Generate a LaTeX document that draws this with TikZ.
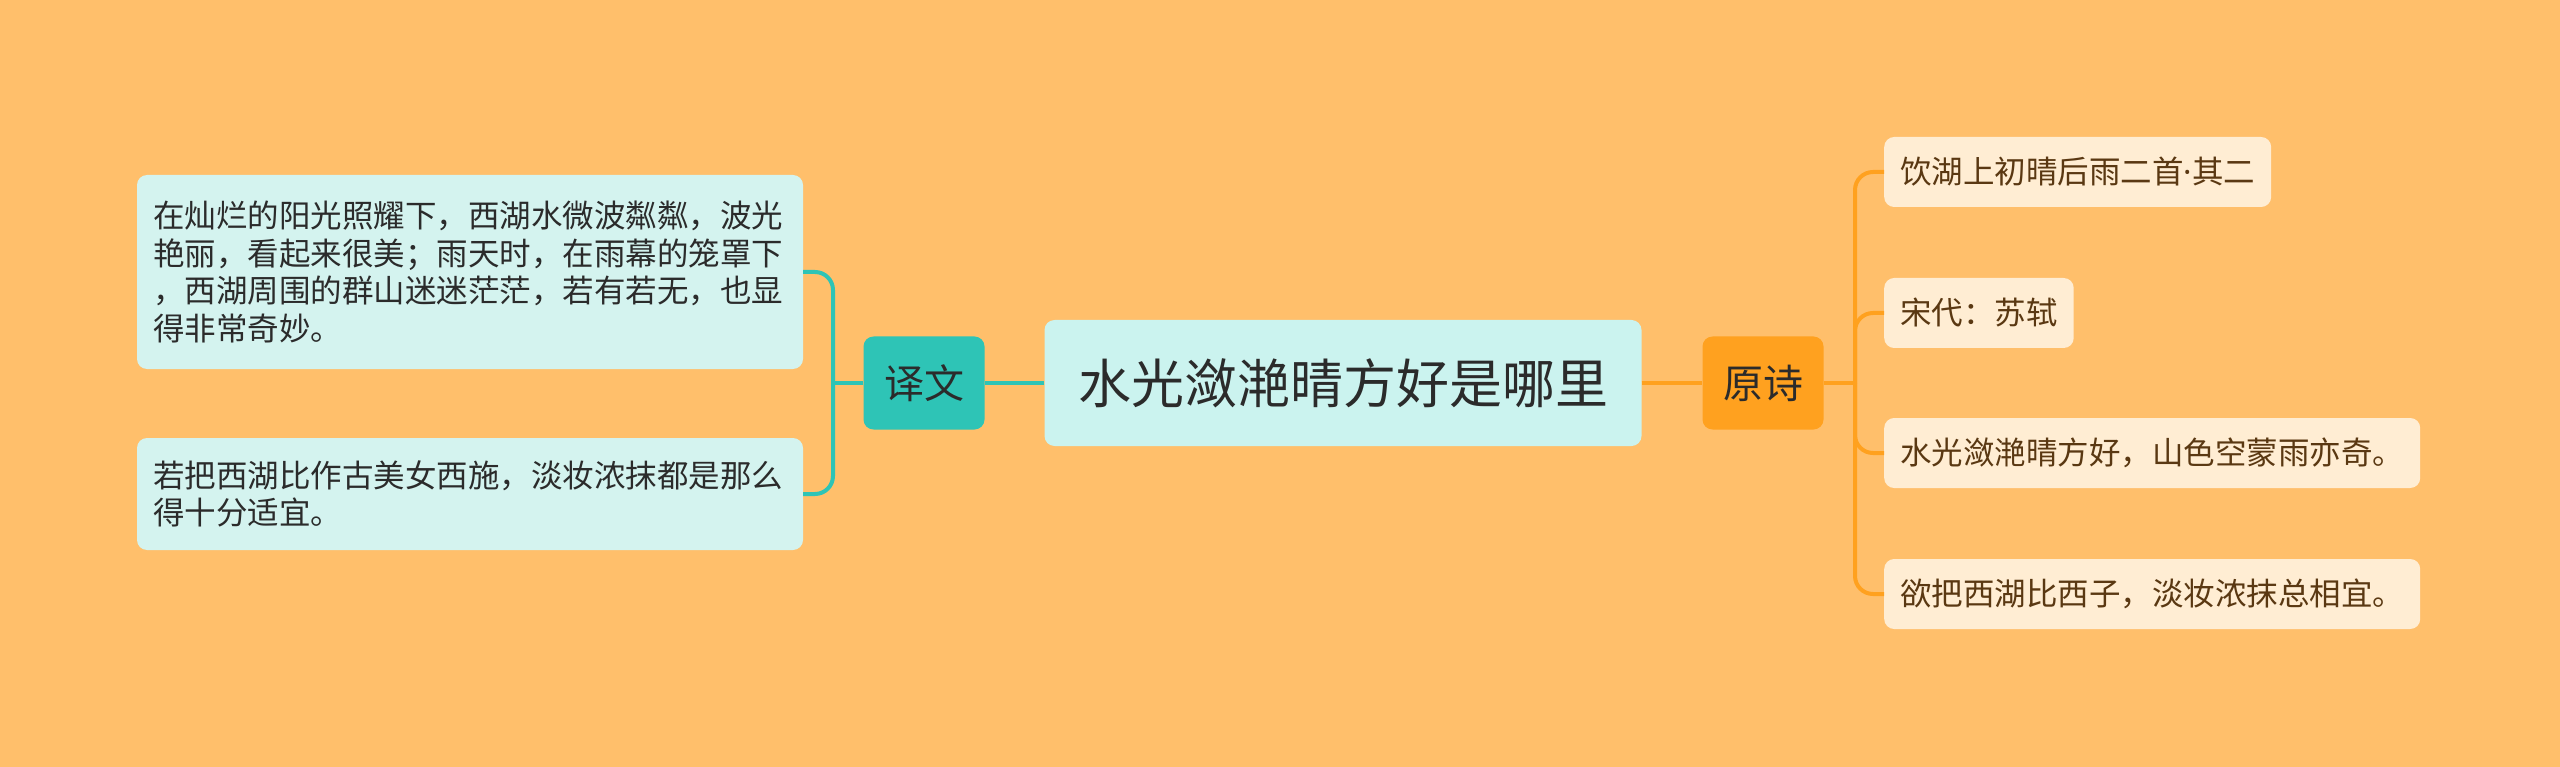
\documentclass[tikz,border=0pt]{standalone}
\usepackage{fontspec}
\setmainfont{Noto Sans CJK SC}
\newfontfamily\latinfont{Noto Sans}
\definecolor{bgc}{HTML}{FFBF6B}
\definecolor{tealc}{HTML}{2EC4B6}
\definecolor{leftleaf}{HTML}{D4F3EF}
\definecolor{rootc}{HTML}{CBF3EF}
\definecolor{orangec}{HTML}{FFA11F}
\definecolor{rightleaf}{HTML}{FFEDD3}
\definecolor{darktext}{HTML}{2B2B2B}
\definecolor{browntext}{HTML}{5A3812}
\tikzset{
  box/.style={rounded corners=10pt, inner xsep=16pt, inner ysep=0pt},
  rootbox/.style={box, fill=rootc, text=darktext, minimum width=597pt, minimum height=126pt,
    font=\fontsize{53}{60}\selectfont},
  branchbox/.style={box, minimum width=121pt, minimum height=93pt, text=darktext,
    font=\fontsize{40}{46}\selectfont},
  leftleafbox/.style={box, fill=leftleaf, text=darktext, text width=634pt, align=left,
    font=\fontsize{31.5}{37.5}\selectfont},
  rightleafbox/.style={box, fill=rightleaf, text=browntext, minimum height=70pt, anchor=west,
    font=\fontsize{31.5}{37.5}\selectfont},
  tealline/.style={draw=tealc, line width=4pt},
  orangeline/.style={draw=orangec, line width=4pt},
}
\begin{document}
\begin{tikzpicture}[x=1pt,y=-1pt]
    % background
    \fill[bgc] (0,0) rectangle (2560,767);
    \useasboundingbox (0,0) rectangle (2560,767);
    % root and branches
    \node[rootbox] (root) at (1343,383) {水光潋滟晴方好是哪里};
    \node[branchbox, fill=tealc] (yiwen) at (924,383) {译文};
    \node[branchbox, fill=orangec] (yuanshi) at (1763,383) {原诗};
    % left leaves
    \node[leftleafbox, minimum height=194pt] (yw1) at (470,272)
      {在灿烂的阳光照耀下，西湖水微波粼粼，波光\\艳丽，看起来很美；雨天时，在雨幕的笼罩下\\，西湖周围的群山迷迷茫茫，若有若无，也显\\得非常奇妙。};
    \node[leftleafbox, minimum height=112pt] (yw2) at (470,494)
      {若把西湖比作古美女西施，淡妆浓抹都是那么\\得十分适宜。};
    % right leaves
    \node[rightleafbox] (ys1) at (1884,172) {饮湖上初晴后雨二首{\latinfont ·}其二};
    \node[rightleafbox] (ys2) at (1884,313) {宋代：苏轼};
    \node[rightleafbox] (ys3) at (1884,453) {水光潋滟晴方好，山色空蒙雨亦奇。};
    \node[rightleafbox] (ys4) at (1884,594) {欲把西湖比西子，淡妆浓抹总相宜。};
    % connectors
    \coordinate (lj) at (833,383);
    \coordinate (rj) at (1855,383);
    \draw[tealline] (root.west) -- (yiwen.east);
    \draw[tealline] (yiwen.west) -- (lj);
    \draw[tealline, rounded corners=18pt] (yw1.east) -| (lj);
    \draw[tealline, rounded corners=18pt] (yw2.east) -| (lj);
    \draw[orangeline] (root.east) -- (yuanshi.west);
    \draw[orangeline] (yuanshi.east) -- (rj);
    \foreach \n in {ys1,ys2,ys3,ys4}
      \draw[orangeline, rounded corners=18pt] (rj) |- (\n.west);
\end{tikzpicture}
\end{document}
